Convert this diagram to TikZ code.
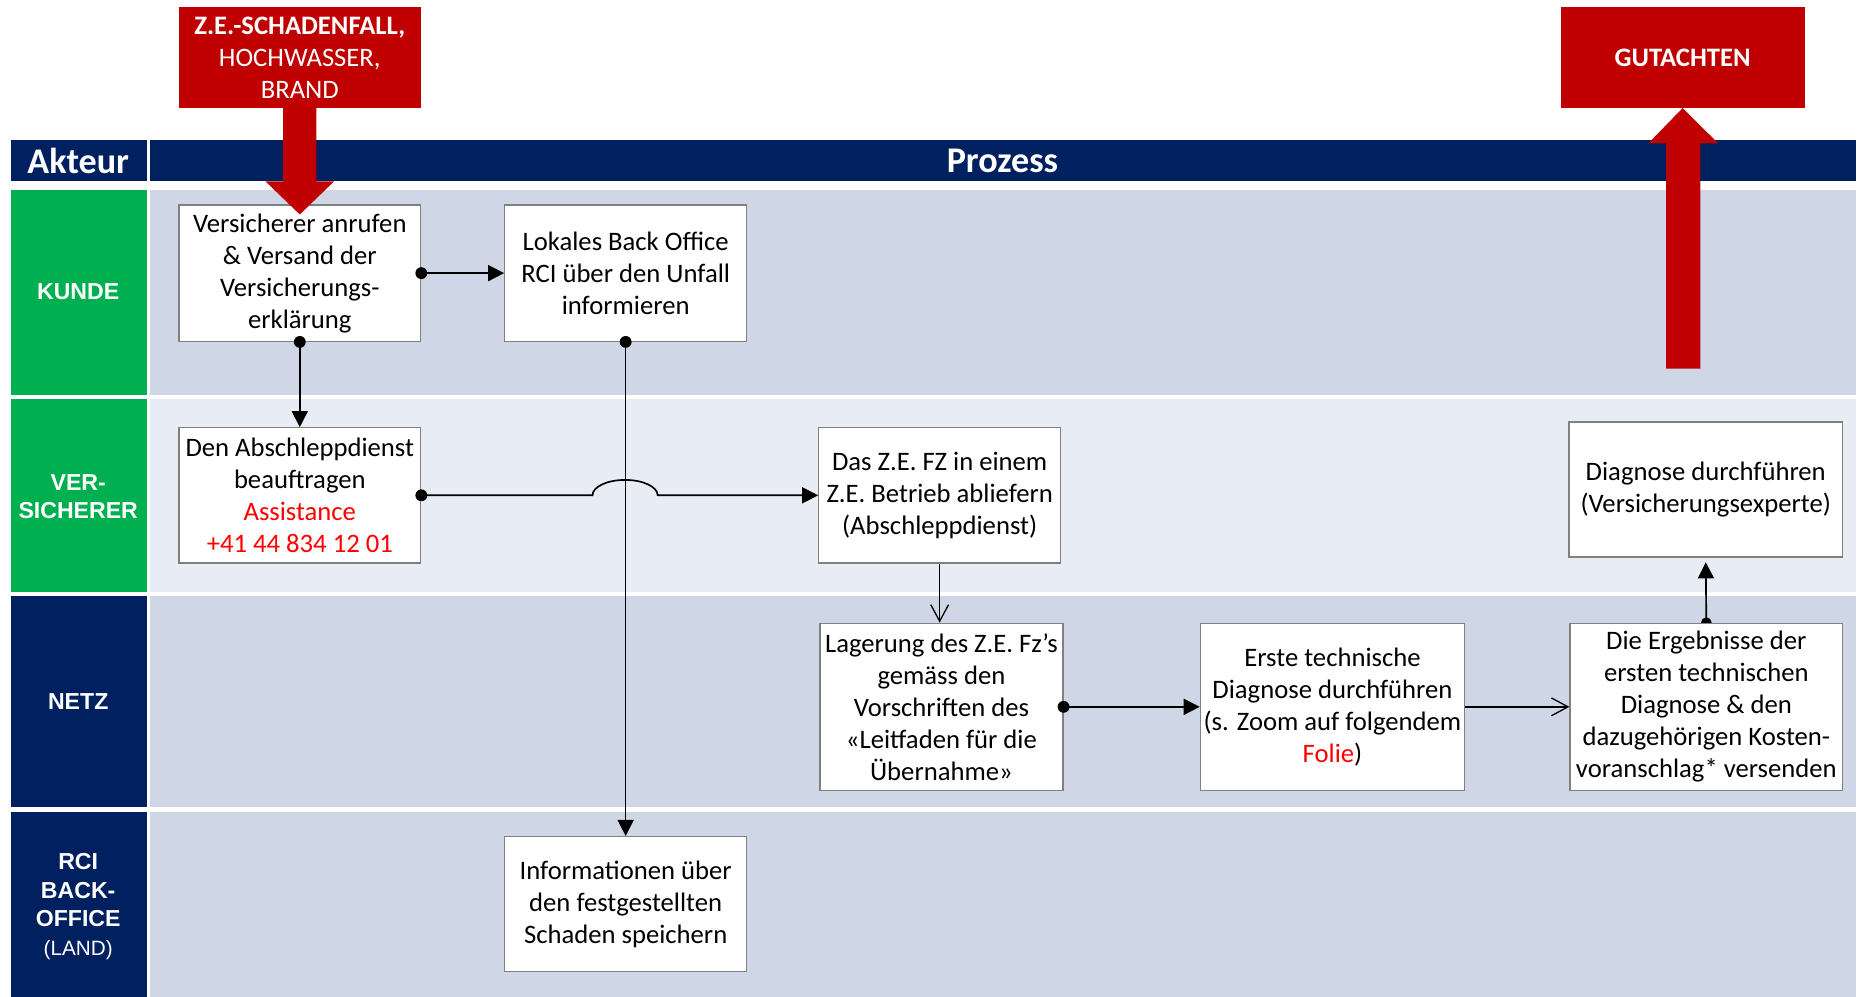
\documentclass[tikz,border=0pt]{standalone}
\usepackage{fontspec}
\setmainfont{Carlito}
\newfontfamily\arialf{Liberation Sans}
\usetikzlibrary{arrows.meta}
\definecolor{navy}{HTML}{002060}
\definecolor{lgreen}{HTML}{00B050}
\definecolor{dred}{HTML}{C00000}
\definecolor{laneA}{HTML}{CFD7E6}
\definecolor{laneB}{HTML}{E8ECF4}
\definecolor{boxline}{HTML}{808080}
\pgfdeclarelayer{bg}
\pgfdeclarelayer{mid}
\pgfsetlayers{bg,mid,main}
\begin{document}
\begin{tikzpicture}[x=1pt,y=-1pt,
  stepbox/.style={draw=boxline,line width=1.1pt,fill=white,inner sep=0pt,align=center,
    font=\fontsize{22.5}{27}\selectfont},
  redbox/.style={fill=dred,inner sep=0pt,align=center,text=white,
    font=\fontsize{22.5}{27}\selectfont},
  lanelbl/.style={text=white,align=center,font=\arialf\bfseries\fontsize{19.5}{24}\selectfont},
  hdr/.style={text=white,font=\bfseries\fontsize{30.5}{32}\selectfont},
  conn/.style={line width=1.4pt,black},
  fulltip/.style={-{Triangle[width=13.5pt,length=13.5pt]}},
  opentip/.style={-{Straight Barb[width=15pt,length=14pt,line width=1.1pt]}},
  dotr/.style={fill=black,radius=5pt}
]
\useasboundingbox (0,0) rectangle (1568,841);
\begin{pgfonlayer}{bg}
\fill[white] (0,0) rectangle (1568,841);
% header
\fill[navy] (9,118) rectangle (124,153);
\fill[navy] (127,118) rectangle (1566,153);
% lanes
\fill[lgreen] (9,160) rectangle (124,333);
\fill[laneA] (127,160) rectangle (1566,333);
\fill[lgreen] (9,337) rectangle (124,500);
\fill[laneB] (127,337) rectangle (1566,500);
\fill[navy] (9,503) rectangle (124,681);
\fill[laneA] (127,503) rectangle (1566,681);
\fill[navy] (9,685) rectangle (124,841);
\fill[laneA] (127,685) rectangle (1566,841);
\end{pgfonlayer}
\node[hdr] (hakt) at (66,136) {Akteur};
\node[hdr] (hproz) at (846,136) {Prozess};
\node[lanelbl] (lk) at (66,246) {KUNDE};
\node[lanelbl] (lv) at (66,419) {VER-\\SICHERER};
\node[lanelbl] (ln) at (66,592) {NETZ};
\node[lanelbl] (lr) at (66,765) {RCI\\BACK-\\OFFICE\\{\mdseries\fontsize{17.5}{24}\selectfont(LAND)}};
% boxes
\node[stepbox,minimum width=204pt,minimum height=115pt] (b1) at (253,230.5)
  {Versicherer anrufen\\\& Versand der\\Versicherungs-\\erklärung};
\node[stepbox,minimum width=204pt,minimum height=115pt] (b2) at (528,230.5)
  {Lokales Back Office\\RCI über den Unfall\\informieren};
\node[stepbox,minimum width=204pt,minimum height=114pt] (b3) at (253,418)
  {Den Abschleppdienst\\beauftragen\\\textcolor{red}{Assistance}\\\textcolor{red}{+41 44 834 12 01}};
\node[stepbox,minimum width=204pt,minimum height=114pt] (b4) at (793,418)
  {Das Z.E. FZ in einem\\Z.E. Betrieb abliefern\\(Abschleppdienst)};
\node[stepbox,minimum width=231pt,minimum height=114pt] (b5) at (1439.5,413)
  {Diagnose durchführen\\(Versicherungsexperte)};
\node[stepbox,minimum width=205pt,minimum height=141pt] (b6) at (794.5,596.5)
  {Lagerung des Z.E. Fz’s\\gemäss den\\Vorschriften des\\«Leitfaden für die\\Übernahme»};
\node[stepbox,minimum width=223pt,minimum height=141pt] (b7) at (1124.5,596.5)
  {Erste technische\\Diagnose durchführen\\(s. Zoom auf folgendem\\\textcolor{red}{Folie})};
\node[stepbox,minimum width=230pt,minimum height=141pt] (b8) at (1440,596.5)
  {Die Ergebnisse der\\ersten technischen\\Diagnose \& den\\dazugehörigen Kosten-\\voranschlag* versenden};
\node[stepbox,minimum width=204pt,minimum height=114pt] (b9) at (528,763)
  {Informationen über\\den festgestellten\\Schaden speichern};
% connectors
\draw[conn,fulltip] (b1.east) -- (b2.west);
\fill[dotr] (b1.east) circle;
\draw[conn,fulltip] (b1.south) -- (b3.north);
\fill[dotr] (b1.south) circle;
\draw[conn,fulltip] (b2.south) -- (b9.north);
\fill[dotr] (b2.south) circle;
\coordinate (j1) at (500,418);
\coordinate (j2) at (555,418);
\draw[conn,fulltip] (b3.east) -- (j1) arc[start angle=180,end angle=0,x radius=27.5,y radius=-13] -- (b4.west);
\fill[dotr] (b3.east) circle;
\draw[line width=1pt,opentip] (b4.south) -- (b4.south |- b6.north);
\draw[conn,fulltip] (b6.east) -- (b7.west);
\fill[dotr] (b6.east) circle;
\draw[conn,opentip] (b7.east) -- (b8.west);
\begin{pgfonlayer}{mid}
\fill[dotr,radius=4.5pt] (b8.north) circle;
\end{pgfonlayer}
\draw[conn,fulltip] (b8.north) -- ([yshift=-4pt]b5.south);
% red boxes and arrows
\node[redbox,minimum width=204pt,minimum height=85pt] (r1) at (253,48.5)
  {\textbf{Z.E.-SCHADENFALL,}\\HOCHWASSER,\\BRAND};
\node[redbox,minimum width=206pt,minimum height=85pt] (r2) at (1420,48.5)
  {\textbf{GUTACHTEN}};
\fill[dred] (r1.south -| 239,0) -- (267,91) -- (267,153) -- (282,153) -- (253,181)
  -- (224,153) -- (239,153) -- cycle;
\fill[dred] (1406,311) -- (1435,311) -- (1435,121) -- (1450,121) -- (r2.south)
  -- (1391,121) -- (1406,121) -- cycle;
\end{tikzpicture}
\end{document}
